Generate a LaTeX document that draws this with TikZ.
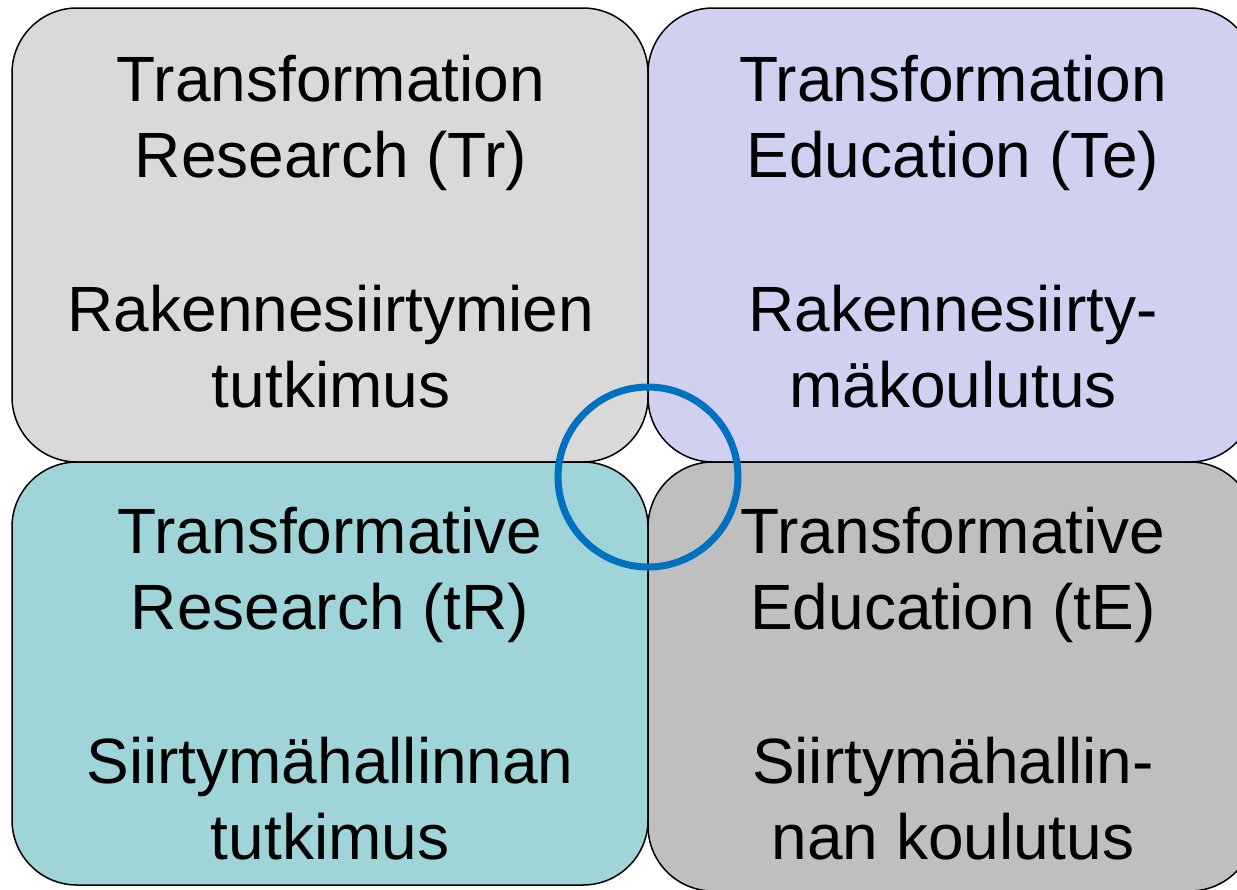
\documentclass[tikz,border=0pt]{standalone}
\usepackage{fontspec}
\setmainfont{Liberation Sans}
\definecolor{tlgray}{HTML}{D9D9D9}
\definecolor{trlav}{HTML}{D0D0F0}
\definecolor{blteal}{HTML}{9FD4D8}
\definecolor{brgray}{HTML}{BFBFBF}
\definecolor{hubblue}{HTML}{0070C0}
\begin{document}
\begin{tikzpicture}[x=0.5pt, y=-0.5pt,
    box/.style={draw=black, line width=0.75pt, rounded corners=32.5pt, inner sep=0pt, outer sep=0pt},
    txt/.style={align=center, inner sep=0pt, font=\fontsize{32}{38}\selectfont}]
    \clip (0,0) rectangle (1237,889);

    % Quadrants
    \node[box, fill=tlgray, minimum width=318pt, minimum height=227pt] (tr) at (330,235) {};
    \node[box, fill=trlav, minimum width=303.5pt, minimum height=227pt] (te) at (951.5,235) {};
    \node[box, fill=blteal, minimum width=318pt, minimum height=211.5pt] (tRbox) at (330,673.5) {};
    \node[box, fill=brgray, minimum width=303.5pt, minimum height=214.5pt] (tEbox) at (951.5,676.5) {};

    % Texts
    \node[txt] (trtext) at (331,232) {Transformation\\Research (Tr)\\[39pt]Rakennesiirtymien\\tutkimus};
    \node[txt] (tetext) at (953,232) {Transformation\\Education (Te)\\[39pt]Rakennesiirty-\\mäkoulutus};
    \node[txt] (tRtext) at (330,684) {Transformative\\Research (tR)\\[39pt]Siirtymähallinnan\\tutkimus};
    \node[txt] (tEtext) at (953,684) {Transformative\\Education (tE)\\[39pt]Siirtymähallin-\\nan koulutus};

    % Centre ring
    \node[draw=hubblue, line width=3.5pt, circle, minimum size=90pt, inner sep=0pt] (hub) at (648,477) {};
\end{tikzpicture}
\end{document}
